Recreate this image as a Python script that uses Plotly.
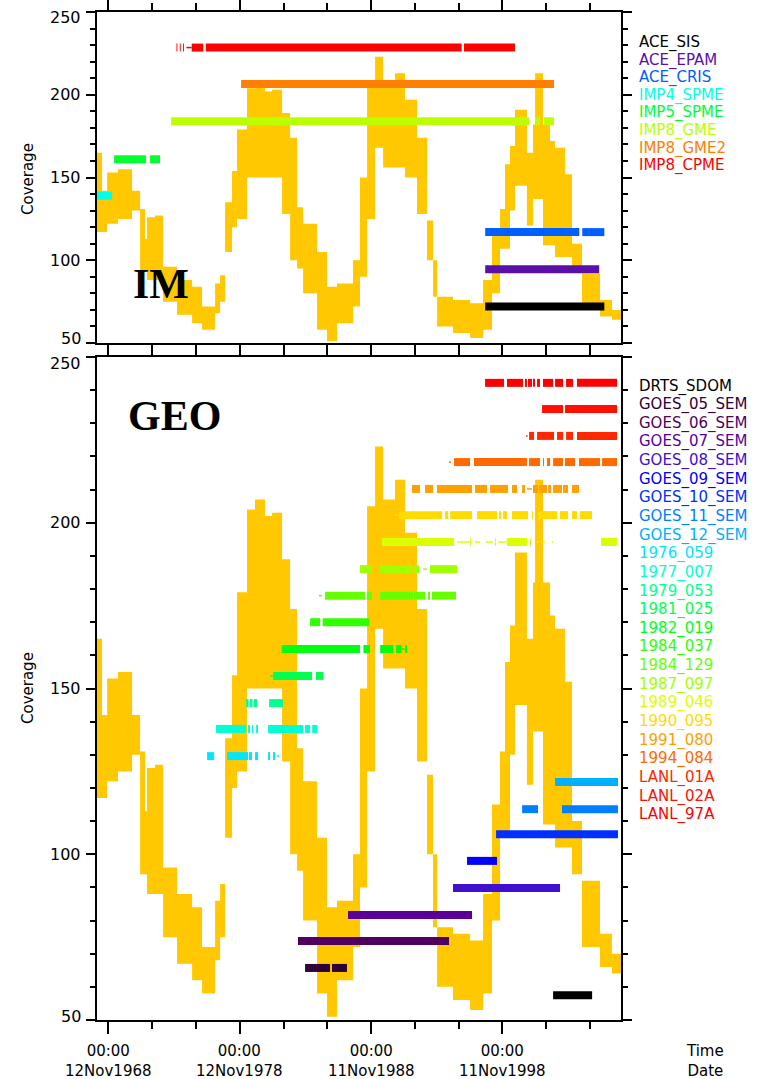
import pandas as pd
import plotly.graph_objects as go

# ---------------- data (decimal years) ----------------
# Coverage curve: band envelope (low / high) starting at each year (step)
CURVE_YEARS = [1968.00, 1968.38, 1968.77, 1969.60, 1970.67, 1971.28, 1971.66, 1971.81, 1972.42, 1973.03,
               1974.09, 1975.24, 1976.00, 1976.99, 1977.37, 1977.75, 1978.28, 1978.66, 1979.42, 1980.03,
               1980.79, 1981.33, 1982.09, 1982.70, 1983.23, 1983.69, 1984.75, 1985.51, 1986.27, 1987.49,
               1988.02, 1988.56, 1989.17, 1989.78, 1990.69, 1991.45, 1992.36, 1993.12, 1993.58, 1993.89,
               1995.10, 1996.40, 1997.39, 1998.07, 1998.68, 1999.06, 1999.44, 1999.82, 2000.73, 2001.19,
               2001.35, 2001.95, 2002.49, 2002.87, 2003.63, 2004.16, 2004.92, 2006.29, 2007.20, 2007.89]
CURVE_LOW = [117, 117, 122, 125, 130, 94, 94, 88, 88, 75,
             67, 62, 58, 68, 75, 105, 120, 125, 150, 150,
             150, 150, 128, 100, 95, 80, 58, 51, 62, 72,
             90, 125, 168, 156, 156, 150, 128, 100, 78, 60,
             56, 53, 58, 80, 107, 107, 130, 145, 121, 137,
             137, 109, 109, 102, 102, 94, 72, 66, 64, 64]
CURVE_HIGH = [165, 142, 153, 155, 142, 131, 113, 126, 127, 96,
              88, 84, 72, 86, 91, 135, 154, 179, 204, 207,
              202, 203, 189, 174, 132, 122, 105, 84, 86, 100,
              150, 205, 223, 207, 213, 197, 174, 124, 100, 78,
              76, 74, 88, 115, 131, 158, 169, 191, 165, 182,
              213, 182, 172, 168, 152, 110, 92, 76, 70, 70]

# IM panel instruments
IM_NAMES = ["ACE_SIS", "ACE_EPAM", "ACE_CRIS", "IMP4_SPME", "IMP5_SPME", "IMP8_GME", "IMP8_GME2", "IMP8_CPME"]
IM_LEVELS = [72, 94.5, 117, 139, 161, 184, 206.5, 228.5]
IM_SEGMENTS = [
    [[1997.55, 2006.62]],
    [[1997.55, 2006.23]],
    [[1997.55, 2004.71], [2004.94, 2006.62]],
    [[1968.00, 1969.15]],
    [[1969.30, 1971.73], [1972.04, 1972.80]],
    [[1973.64, 2000.89], [2001.34, 2001.72], [2002.03, 2002.79]],
    [[1978.97, 2002.79]],
    [[1974.05, 1974.12], [1974.30, 1974.37], [1974.55, 1974.62], [1975.21, 1976.09],
     [1976.28, 1995.76], [1995.94, 1999.82]],
]
IM_SPARSE = [[], [], [], [], [], [], [], [[1974.80, 1975.21]]]

# GEO panel instruments
GEO_NAMES = ["DRTS_SDOM", "GOES_05_SEM", "GOES_06_SEM", "GOES_07_SEM", "GOES_08_SEM", "GOES_09_SEM",
             "GOES_10_SEM", "GOES_11_SEM", "GOES_12_SEM", "1976_059", "1977_007", "1979_053",
             "1981_025", "1982_019", "1984_037", "1984_129", "1987_097", "1989_046", "1990_095",
             "1991_080", "1994_084", "LANL_01A", "LANL_02A", "LANL_97A"]
GEO_LEVELS = [57.5, 65.7, 73.8, 81.7, 89.8, 98.0, 106.0, 113.6, 121.8, 129.6, 137.8, 145.6,
              153.8, 161.9, 170.0, 178.0, 186.0, 194.2, 202.3, 210.2, 218.3, 226.2, 234.3, 242.2]
GEO_SEGMENTS = [
    [[2002.72, 2005.69]],
    [[1983.84, 1985.74], [1985.89, 1987.03]],
    [[1983.30, 1994.80]],
    [[1987.11, 1996.55]],
    [[1995.10, 2003.25]],
    [[1996.17, 1998.45]],
    [[1998.38, 2007.66]],
    [[2000.36, 2001.57], [2003.40, 2007.66]],
    [[2002.87, 2007.66]],
    [[1976.38, 1976.91], [1977.90, 1979.50], [1979.57, 1979.80], [1980.03, 1980.26],
     [1981.02, 1981.17], [1981.40, 1981.56]],
    [[1977.06, 1979.35], [1979.50, 1979.65], [1979.80, 1979.88], [1980.11, 1980.26],
     [1981.02, 1983.69], [1983.84, 1984.22], [1984.38, 1984.76]],
    [[1979.35, 1979.54], [1979.65, 1979.84], [1979.95, 1980.18], [1981.10, 1982.16]],
    [[1981.40, 1984.37], [1984.67, 1985.21]],
    [[1982.06, 1988.02], [1988.28, 1988.78], [1989.55, 1990.56], [1990.76, 1991.20], [1991.45, 1991.60]],
    [[1984.22, 1984.98], [1985.18, 1988.73]],
    [[1985.36, 1988.40], [1988.55, 1988.93], [1989.55, 1992.06], [1992.13, 1992.97],
     [1993.20, 1993.35], [1993.50, 1995.33]],
    [[1988.02, 1988.93], [1989.55, 1991.98], [1992.06, 1992.51], [1993.35, 1995.41]],
    [[1989.70, 1995.18], [1996.40, 1996.47], [1998.30, 1998.38], [1999.21, 2000.73],
     [2000.96, 2001.04], [2006.37, 2007.59]],
    [[1991.00, 1994.27], [1994.50, 1994.73], [1994.88, 1996.55], [1996.93, 1998.45],
     [1998.60, 1998.76], [1998.91, 1999.21], [1999.59, 2000.81], [2001.11, 2001.19],
     [2001.57, 2003.02], [2003.25, 2003.86], [2004.16, 2004.54], [2004.77, 2005.68]],
    [[1991.98, 1992.59], [1992.97, 1993.58], [1993.88, 1996.55], [1996.78, 1997.69],
     [1997.92, 1999.29], [1999.59, 1999.97], [2000.36, 2000.58], [2001.19, 2001.57],
     [2001.65, 2002.26], [2002.34, 2002.57], [2002.72, 2003.40], [2003.48, 2003.86],
     [2004.16, 2004.69]],
    [[1995.18, 1996.40], [1996.70, 2000.73], [2000.89, 2001.72], [2001.95, 2002.03],
     [2002.26, 2002.49], [2002.72, 2003.48], [2003.63, 2004.39], [2004.69, 2006.29],
     [2006.45, 2007.59]],
    [[2000.89, 2001.27], [2001.50, 2002.79], [2003.02, 2003.48], [2003.71, 2004.24],
     [2004.54, 2007.59]],
    [[2001.88, 2003.48], [2003.63, 2007.59]],
    [[1997.54, 1998.98], [1999.21, 2000.43], [2000.58, 2000.73], [2000.81, 2001.11],
     [2001.19, 2001.34], [2001.50, 2001.72], [2001.95, 2002.72], [2002.87, 2003.48],
     [2003.71, 2004.24], [2004.54, 2007.59]],
]
GEO_SPARSE = [[], [], [], [], [], [], [], [], [],
              [[1981.71, 1981.86]],
              [],
              [],
              [[1981.17, 1981.40]],
              [[1991.20, 1991.45]],
              [],
              [[1984.90, 1985.13]],
              [[1992.82, 1993.12]],
              [[1995.41, 1996.40], [1996.78, 1997.16], [1997.61, 1998.15], [1998.53, 1999.21],
               [2001.50, 2001.60], [2001.75, 2001.85], [2002.00, 2002.10], [2002.62, 2002.72]],
              [[1990.69, 1991.00]],
              [[2000.73, 2001.11]],
              [[1994.80, 1994.95]],
              [[2000.66, 2000.78]],
              [],
              []]

X_TICK_DATES = ["1968-11-12", "1978-11-12", "1988-11-11", "1998-11-11"]
X_TICK_TEXT = ["00:00<br>12Nov1968", "00:00<br>12Nov1978", "00:00<br>11Nov1988", "00:00<br>11Nov1998"]
Y_TICKS = [50, 100, 150, 200, 250]
Y_MIN, Y_MAX = 50, 250

# ---------------- styles ----------------
IM_COLORS = ["#000000", "#5a10a8", "#0060ff", "#00ffe6", "#00ff30", "#bbff00", "#ff8000", "#ff0000"]
GEO_COLORS = ["#000000", "#30003a", "#500060", "#5a0098", "#4010d0", "#0000ff", "#0030ff", "#0080ff",
              "#00b0ff", "#00e6ff", "#00ffd2", "#00ff90", "#00ff50", "#00ff10", "#30ff00", "#66ff00",
              "#a0ff00", "#dcff00", "#ffdc00", "#ffa000", "#ff6a00", "#ff2800", "#ff1000", "#ff0000"]
CURVE_COLOR = "#ffc800"
FONT = "DejaVu Sans"


def to_dt(y):
    if y is None:
        return None
    yr = int(y)
    a = pd.Timestamp(yr, 1, 1)
    b = pd.Timestamp(yr + 1, 1, 1)
    return a + (b - a) * (y - yr)


def seg_xy(segs, level):
    xs, ys = [], []
    for s, e in segs:
        xs += [to_dt(s), to_dt(e), None]
        ys += [level, level, None]
    return xs, ys


fig = go.Figure()

curve_x = [to_dt(v) for v in CURVE_YEARS]
for xa, ya in (("x", "y"), ("x2", "y2")):
    fig.add_trace(go.Scatter(x=curve_x, y=CURVE_LOW, mode="lines", line=dict(width=0, shape="hv", color=CURVE_COLOR),
                             xaxis=xa, yaxis=ya, showlegend=False, hoverinfo="skip"))
    fig.add_trace(go.Scatter(x=curve_x, y=CURVE_HIGH, mode="lines", line=dict(width=0, shape="hv", color=CURVE_COLOR),
                             fill="tonexty", fillcolor=CURVE_COLOR,
                             xaxis=xa, yaxis=ya, showlegend=False, hoverinfo="skip"))

for names, levels, segsets, sparse, colors, xa, ya in (
        (IM_NAMES, IM_LEVELS, IM_SEGMENTS, IM_SPARSE, IM_COLORS, "x", "y"),
        (GEO_NAMES, GEO_LEVELS, GEO_SEGMENTS, GEO_SPARSE, GEO_COLORS, "x2", "y2")):
    for name, lev, segs, sp, col in zip(names, levels, segsets, sparse, colors):
        if sp:
            xs, ys = seg_xy(sp, lev)
            fig.add_trace(go.Scatter(x=xs, y=ys, mode="lines", line=dict(width=1.5, color=col),
                                     xaxis=xa, yaxis=ya, showlegend=False, name=name))
        xs, ys = seg_xy(segs, lev)
        fig.add_trace(go.Scatter(x=xs, y=ys, mode="lines", line=dict(width=8, color=col),
                                 xaxis=xa, yaxis=ya, showlegend=False, name=name))

# ---------------- layout ----------------
W, H = 772, 1079
L, R, T, B = 97, 151, 12, 59
PW, PH = W - L - R, H - T - B
TOP_PX = (12, 343)      # top panel pixel extent (y=250 .. y=50)
BOT_PX = (357, 1020)    # bottom panel pixel extent


def px_x(px):
    return (px - L) / PW


def px_y(py):
    return (H - B - py) / PH


X0, X1 = to_dt(1968.0), to_dt(2007.89)
minor_vals = [to_dt(1968.864 + k * 10 / 3) for k in range(-1, 13) if 1968.0 < 1968.864 + k * 10 / 3 < 2007.89]

axis_common = dict(showline=True, linewidth=1.6, linecolor="black", mirror="ticks", automargin=False,
                   ticks="outside", tickwidth=1.6, tickcolor="black", showgrid=False, zeroline=False)

xcommon = dict(axis_common, type="date", range=[X0, X1], tickvals=X_TICK_DATES, showticklabels=False,
               ticklen=12,
               minor=dict(tickvals=minor_vals, ticklen=7, ticks="outside", tickwidth=1.6, tickcolor="black",
                          showgrid=False))
ycommon = dict(axis_common, range=[Y_MIN, Y_MAX], tickvals=Y_TICKS, ticklen=9, showticklabels=False,
               minor=dict(dtick=10, ticklen=5, ticks="outside", tickwidth=1.6, tickcolor="black",
                          showgrid=False))

top_dom = [px_y(TOP_PX[1]), px_y(TOP_PX[0])]
bot_dom = [px_y(BOT_PX[1]), px_y(BOT_PX[0])]

fig.update_layout(
    width=W, height=H, margin=dict(l=L, r=R, t=T, b=B, autoexpand=False),
    paper_bgcolor="white", plot_bgcolor="white", showlegend=False,
    xaxis=dict(xcommon, anchor="y", domain=[0, 1]),
    yaxis=dict(ycommon, anchor="x", domain=top_dom),
    xaxis2=dict(xcommon, anchor="y2", domain=[0, 1], matches="x"),
    yaxis2=dict(ycommon, anchor="x2", domain=bot_dom),
)

ann = []
# y tick labels (end labels nudged inside the axis range, as in the original)
for (p0, p1) in (TOP_PX, BOT_PX):
    for v in Y_TICKS:
        py = p0 + (Y_MAX - v) * (p1 - p0) / (Y_MAX - Y_MIN)
        if v == Y_MAX:
            py += 6
        elif v == Y_MIN:
            py -= 4
        ann.append(dict(x=px_x(83), y=px_y(py), xref="paper", yref="paper", text=str(v),
                        showarrow=False, xanchor="right", yanchor="middle",
                        font=dict(family=FONT, size=16, color="black")))
# legends
for i, (n, c) in enumerate(zip(IM_NAMES, IM_COLORS)):
    ann.append(dict(x=px_x(637), y=px_y(42.7 + i * 17.57), xref="paper", yref="paper", text=n,
                    showarrow=False, xanchor="left", yanchor="middle",
                    font=dict(family=FONT, size=15, color=c)))
for i, (n, c) in enumerate(zip(GEO_NAMES, GEO_COLORS)):
    ann.append(dict(x=px_x(637), y=px_y(386 + i * 18.64), xref="paper", yref="paper", text=n,
                    showarrow=False, xanchor="left", yanchor="middle",
                    font=dict(family=FONT, size=15, color=c)))
# axis titles
for cy in (179, 688):
    ann.append(dict(x=px_x(28), y=px_y(cy), xref="paper", yref="paper", text="Coverage", textangle=-90,
                    showarrow=False, xanchor="center", yanchor="middle",
                    font=dict(family=FONT, size=15, color="black")))
# panel labels
ann.append(dict(x=px_x(161), y=px_y(284), xref="paper", yref="paper", text="<b>IM</b>", showarrow=False,
                xanchor="center", yanchor="middle", font=dict(family="Liberation Serif", size=42, color="black")))
ann.append(dict(x=px_x(174), y=px_y(416), xref="paper", yref="paper", text="<b>GEO</b>", showarrow=False,
                xanchor="center", yanchor="middle", font=dict(family="Liberation Serif", size=42, color="black")))
# x tick labels (two-line)
for d, t in zip(X_TICK_DATES, X_TICK_TEXT):
    ann.append(dict(x=d, y=px_y(1061), xref="x2", yref="paper", text=t, showarrow=False,
                    xanchor="center", yanchor="middle", font=dict(family=FONT, size=15, color="black")))
ann.append(dict(x=px_x(705), y=px_y(1061), xref="paper", yref="paper", text="Time<br>Date", showarrow=False,
                xanchor="center", yanchor="middle", font=dict(family=FONT, size=15, color="black")))

fig.update_layout(annotations=ann)
fig.write_html("out.html", config={"displayModeBar": False},
               post_script="document.body.style.margin='0';document.body.style.padding='0';"
                           "document.documentElement.style.overflow='hidden';")
